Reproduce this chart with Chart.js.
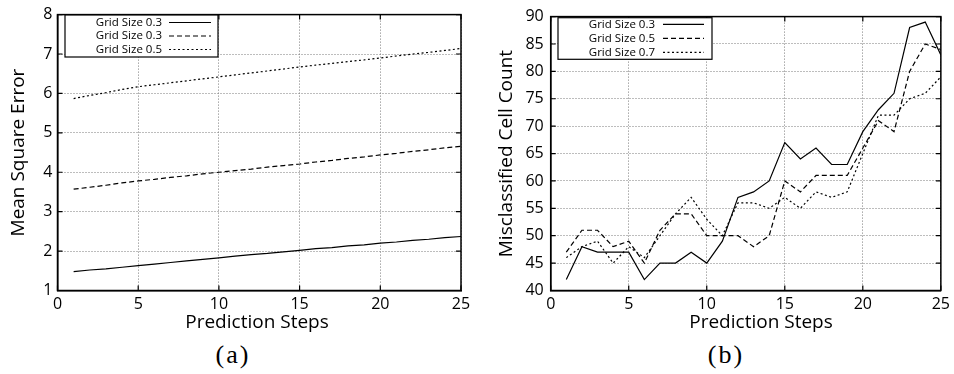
<!DOCTYPE html>
<html>
<head>
<meta charset="utf-8">
<script src="https://cdn.jsdelivr.net/npm/chart.js@4.4.1/dist/chart.umd.min.js"></script>
<style>
  body { margin: 0; background: #fff; width: 954px; height: 374px; position: relative; overflow: hidden; }
  .wrap { position: absolute; top: 0; width: 477px; height: 340px; }
  .cap { position: absolute; top: 340px; font-family: "Liberation Serif", serif; font-size: 26px; letter-spacing: 2px; transform: translateX(-50%); }
</style>
</head>
<body>
<div class="wrap" style="left:0"><canvas id="mseChart" width="477" height="340"></canvas></div>
<div class="wrap" style="left:477px"><canvas id="cellChart" width="477" height="340"></canvas></div>
<div class="cap" style="left:233px">(a)</div>
<div class="cap" style="left:726px">(b)</div>
<script>
// prediction steps (x values)
const steps = [1, 2, 3, 4, 5, 6, 7, 8, 9, 10, 11, 12, 13, 14, 15, 16, 17, 18, 19, 20, 21, 22, 23, 24, 25];
const xTicks = [0, 5, 10, 15, 20, 25];

// (a) mean square error
const mseLabels = ["Grid Size 0.3", "Grid Size 0.3", "Grid Size 0.5"];
const mseSolid = [1.48, 1.52, 1.55, 1.59, 1.63, 1.67, 1.71, 1.75, 1.79, 1.83, 1.87, 1.91, 1.94, 1.98, 2.02, 2.06, 2.09, 2.13, 2.16, 2.20, 2.23, 2.27, 2.30, 2.34, 2.37];
const mseDashed = [3.57, 3.62, 3.67, 3.73, 3.78, 3.82, 3.87, 3.91, 3.96, 4.00, 4.04, 4.08, 4.13, 4.17, 4.21, 4.26, 4.30, 4.35, 4.39, 4.44, 4.48, 4.53, 4.57, 4.62, 4.66];
const mseDotted = [5.87, 5.95, 6.02, 6.10, 6.17, 6.22, 6.27, 6.32, 6.37, 6.42, 6.47, 6.52, 6.57, 6.62, 6.67, 6.72, 6.76, 6.81, 6.85, 6.90, 6.95, 7.00, 7.04, 7.09, 7.14];
const mseYTicks = [1, 2, 3, 4, 5, 6, 7, 8];

// (b) misclassified cell count
const cellLabels = ["Grid Size 0.3", "Grid Size 0.5", "Grid Size 0.7"];
const cellSolid = [42, 48, 47, 47, 47, 42, 45, 45, 47, 45, 49, 57, 58, 60, 67, 64, 66, 63, 63, 69, 73, 76, 88, 89, 83];
const cellDashed = [47, 51, 51, 48, 49, 45, 51, 54, 54, 50, 50, 50, 48, 50, 60, 58, 61, 61, 61, 66, 71, 69, 80, 85, 84];
const cellDotted = [46, 48, 49, 45, 48, 46, 50, 54, 57, 53, 50, 56, 56, 55, 57, 55, 58, 57, 58, 65, 72, 72, 75, 76, 79];
const cellYTicks = [40, 45, 50, 55, 60, 65, 70, 75, 80, 85, 90];

const FONT = "'Open Sans', sans-serif";
const dashes = [[], [5, 3], [2, 2.5]];

function toPoints(values) {
  return steps.map((s, i) => ({ x: s, y: values[i] }));
}

function makeDatasets(labels, series) {
  return series.map((vals, i) => ({
    label: labels[i],
    data: toPoints(vals),
    borderColor: "#000",
    borderWidth: 1.2,
    borderDash: dashes[i],
    pointRadius: 0,
    fill: false,
    tension: 0,
  }));
}

// frame + inward tick marks on all four sides
const framePlugin = {
  id: "frame",
  afterDraw(chart) {
    const { ctx, chartArea: a, scales } = chart;
    ctx.save();
    ctx.strokeStyle = "#000";
    ctx.lineWidth = 1.5;
    ctx.setLineDash([]);
    ctx.strokeRect(a.left, a.top, a.right - a.left, a.bottom - a.top);
    ctx.lineWidth = 1.2;
    ctx.beginPath();
    scales.x.ticks.forEach((t) => {
      const px = scales.x.getPixelForValue(t.value);
      ctx.moveTo(px, a.top); ctx.lineTo(px, a.top + 5);
      ctx.moveTo(px, a.bottom); ctx.lineTo(px, a.bottom - 5);
    });
    scales.y.ticks.forEach((t) => {
      const py = scales.y.getPixelForValue(t.value);
      ctx.moveTo(a.left, py); ctx.lineTo(a.left + 5, py);
      ctx.moveTo(a.right, py); ctx.lineTo(a.right - 5, py);
    });
    ctx.stroke();
    ctx.restore();
  },
};

// x axis title, placed where the original figure has it
const xTitlePlugin = {
  id: "xTitle",
  afterDraw(chart, args, opts) {
    const { ctx } = chart;
    ctx.save();
    ctx.font = "19px " + FONT;
    ctx.fillStyle = "#000";
    ctx.textAlign = "center";
    ctx.textBaseline = "middle";
    ctx.fillText(opts.text, opts.cx, opts.cy);
    ctx.restore();
  },
};

// gnuplot-like key: label text then a line sample
const keyPlugin = {
  id: "key",
  afterDraw(chart, args, opts) {
    const { ctx } = chart;
    ctx.save();
    ctx.fillStyle = "#fff";
    ctx.fillRect(opts.x, opts.y, opts.w, opts.h);
    ctx.strokeStyle = "#000";
    ctx.lineWidth = 1.2;
    ctx.setLineDash([]);
    ctx.strokeRect(opts.x, opts.y, opts.w, opts.h);
    ctx.font = "11.5px " + FONT;
    ctx.fillStyle = "#000";
    ctx.textAlign = "right";
    ctx.textBaseline = "middle";
    chart.data.datasets.forEach((ds, i) => {
      const y = opts.y + opts.row0 + i * opts.rowH;
      ctx.fillText(ds.label, opts.textRight, y);
      ctx.setLineDash(ds.borderDash);
      ctx.beginPath();
      ctx.moveTo(opts.lineX0, y);
      ctx.lineTo(opts.lineX1, y);
      ctx.stroke();
    });
    ctx.restore();
  },
};

function makeScales(yTicks, yTitle, yWidth, yTickPad, yTitlePad) {
  return {
    x: {
      type: "linear",
      min: 0,
      max: 25,
      afterBuildTicks: (s) => { s.ticks = xTicks.map((v) => ({ value: v })); },
      afterFit: (s) => { s.height = 340 - 290.5; },
      ticks: { color: "#000", font: { family: FONT, size: 16 }, padding: 4, maxRotation: 0 },
      grid: { color: "#7a7a7a", lineWidth: 1, drawTicks: false },
      border: { color: "#000", width: 1.5, dash: [1, 2] },
    },
    y: {
      type: "linear",
      min: yTicks[0],
      max: yTicks[yTicks.length - 1],
      afterBuildTicks: (s) => { s.ticks = yTicks.map((v) => ({ value: v })); },
      afterFit: (s) => { s.width = yWidth; },
      ticks: { color: "#000", font: { family: FONT, size: 16 }, padding: yTickPad },
      grid: { color: "#7a7a7a", lineWidth: 1, drawTicks: false },
      border: { color: "#000", width: 1.5, dash: [1, 2] },
      title: { display: true, text: yTitle, color: "#000", font: { family: FONT, size: 19 }, padding: { top: yTitlePad, bottom: 0 } },
    },
  };
}

new Chart(document.getElementById("mseChart").getContext("2d"), {
  type: "line",
  data: { datasets: makeDatasets(mseLabels, [mseSolid, mseDashed, mseDotted]) },
  options: {
    responsive: false,
    animation: false,
    layout: { autoPadding: false, padding: { top: 9.5, right: 16, left: 0, bottom: 0 } },
    scales: makeScales(mseYTicks, "Mean Square Error", 57.5, 5, 7),
    plugins: {
      legend: { display: false },
      tooltip: { enabled: false },
      xTitle: { text: "Prediction Steps", cx: 257, cy: 323 },
      key: { x: 65, y: 15, w: 153, h: 42, row0: 7.5, rowH: 13.5, textRight: 162, lineX0: 169, lineX1: 211 },
    },
  },
  plugins: [framePlugin, xTitlePlugin, keyPlugin],
});

new Chart(document.getElementById("cellChart").getContext("2d"), {
  type: "line",
  data: { datasets: makeDatasets(cellLabels, [cellSolid, cellDashed, cellDotted]) },
  options: {
    responsive: false,
    animation: false,
    layout: { autoPadding: false, padding: { top: 11, right: 6.3, left: 0, bottom: 0 } },
    scales: makeScales(cellYTicks, "Misclassified Cell Count", 73.7, 7, 18),
    plugins: {
      legend: { display: false },
      tooltip: { enabled: false },
      xTitle: { text: "Prediction Steps", cx: 284, cy: 323 },
      key: { x: 81, y: 17.7, w: 154, h: 41.6, row0: 6.6, rowH: 14, textRight: 178, lineX0: 186, lineX1: 227 },
    },
  },
  plugins: [framePlugin, xTitlePlugin, keyPlugin],
});
</script>
</body>
</html>
